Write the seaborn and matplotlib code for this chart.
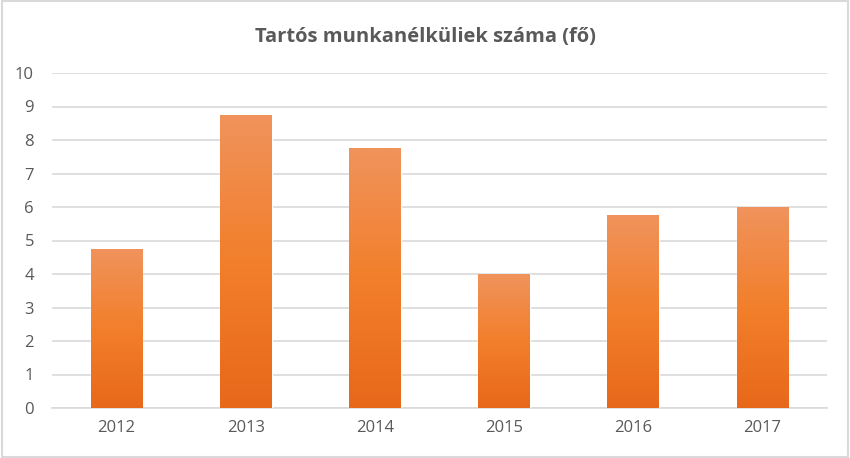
import numpy as np
import pandas as pd
import matplotlib
matplotlib.use("Agg")
import matplotlib.pyplot as plt
import seaborn as sns
from matplotlib.colors import LinearSegmentedColormap

# adatok
evek = ["2012", "2013", "2014", "2015", "2016", "2017"]
ertekek = [4.75, 8.75, 7.75, 4.0, 5.75, 6.0]
cim = "Tartós munkanélküliek száma (fő)"

sns.set_theme(style="white")
plt.rcParams['font.family'] = ['Open Sans', 'DejaVu Sans']

df = pd.DataFrame({"ev": evek, "ertek": ertekek})

fig = plt.figure(figsize=(8.5, 4.58), dpi=100)
ax = fig.add_axes([52 / 850, 50 / 458, 775 / 850, 335 / 458])

sns.barplot(data=df, x="ev", y="ertek", color="#F07F2E", width=0.4, ax=ax, zorder=3)

# színátmenet a hasábokon (felül világosabb, alul sötétebb)
cmap = LinearSegmentedColormap.from_list("narancs", ["#E8681A", "#F27F2B", "#F0935C"])
grad = np.linspace(0, 1, 256).reshape(-1, 1)
for p in ax.patches:
    x0, y0 = p.get_x(), p.get_y()
    w, h = p.get_width(), p.get_height()
    im = ax.imshow(grad, cmap=cmap, aspect="auto", origin="lower",
                   extent=[x0, x0 + w, y0, y0 + h], zorder=4)
    im.set_clip_path(p)

ax.set_xlim(-0.5, len(evek) - 0.5)
ax.set_ylim(0, 10)
ax.set_yticks(range(0, 11))
ax.grid(axis="y", color="#D9D9D9", linewidth=1.2, zorder=0)
ax.set_axisbelow(True)
for s in ["top", "right", "left"]:
    ax.spines[s].set_visible(False)
ax.spines["bottom"].set_color("#D9D9D9")
ax.spines["bottom"].set_linewidth(1.2)
ax.tick_params(axis="both", length=0, labelsize=12, labelcolor="#595959")
ax.tick_params(axis="y", pad=13)
ax.tick_params(axis="x", pad=9)
ax.set_xlabel("")
ax.set_ylabel("")

fig.text(0.5, 1 - 37 / 458, cim, ha="center", va="center", fontsize=14.5,
         fontweight="bold", color="#595959")

# keret a diagram körül
fig.patches.append(plt.Rectangle((0.002, 0.003), 0.996, 0.994, transform=fig.transFigure,
                                 fill=False, edgecolor="#D9D9D9", linewidth=1.5))

fig.savefig("out.png", dpi=100)
